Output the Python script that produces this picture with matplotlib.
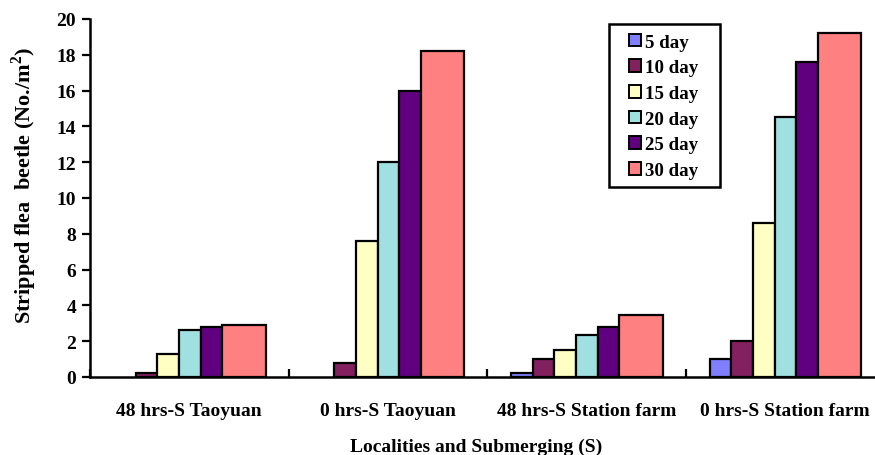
import matplotlib
matplotlib.use("Agg")
import matplotlib.pyplot as plt
from matplotlib.patches import Patch, Rectangle
import numpy as np

plt.rcParams['font.family'] = ['Liberation Serif', 'DejaVu Serif']
plt.rcParams['font.weight'] = 'bold'
plt.rcParams['mathtext.fontset'] = 'custom'
plt.rcParams['mathtext.bf'] = 'Liberation Serif:bold'
plt.rcParams['mathtext.rm'] = 'Liberation Serif:bold'

categories = ["48 hrs-S Taoyuan", "0 hrs-S Taoyuan", "48 hrs-S Station farm", "0 hrs-S Station farm"]
series = ["5 day", "10 day", "15 day", "20 day", "25 day", "30 day"]
day5 = [0.0, 0.0, 0.2, 1.0]
day10 = [0.2, 0.8, 1.0, 2.0]
day15 = [1.3, 7.6, 1.5, 8.6]
day20 = [2.6, 12.0, 2.35, 14.5]
day25 = [2.8, 16.0, 2.8, 17.6]
day30 = [2.9, 18.2, 3.45, 19.2]
values = [day5, day10, day15, day20, day25, day30]
colors = ["#8080FF", "#822060", "#FFFFC4", "#A0E0E0", "#600080", "#FF8080"]

W, H = 875, 456
fig = plt.figure(figsize=(8.75, 4.56), dpi=100)
ax = fig.add_axes([90/W, 1-378/H, 794/W, 358/H])

unit = 0.1093
start = 0.121
x0 = np.arange(len(categories))
for i, (vals, c) in enumerate(zip(values, colors)):
    w = unit * (2 if i == 5 else 1)
    left = x0 + start + i * unit
    v = np.array(vals)
    mask = v > 0
    ax.bar(left[mask], v[mask], width=w, align='edge', color=c,
           edgecolor='black', linewidth=1.6, zorder=3)

ax.set_xlim(0, 4)
ax.set_ylim(0, 20)
ax.set_yticks(np.arange(0, 21, 2))
ax.set_xticks(np.arange(0, 5))
ax.set_xticklabels([])
ax.set_xticks(x0 + 0.5, minor=True)
ax.set_xticklabels(categories, minor=True, fontsize=14, fontweight='bold')
ax.tick_params(axis='x', which='minor', length=0, pad=18)
ax.tick_params(axis='x', which='major', direction='in', length=6, width=1.6)
ax.tick_params(axis='y', direction='out', length=6, width=1.6, labelsize=14, pad=4)
for lab in ax.get_yticklabels():
    lab.set_fontweight('bold')

for s in ['top', 'right']:
    ax.spines[s].set_visible(False)
for s in ['left', 'bottom']:
    ax.spines[s].set_linewidth(1.8)

fig.text(24/W, 1-185/H, "Stripped flea  beetle (No./m$^{\\mathbf{2}}$)", rotation=90,
         ha='center', va='center', fontsize=16, fontweight='bold')
fig.text(476/W, 1-447/H, "Localities and Submerging (S)", ha='center', va='center',
         fontsize=14, fontweight='bold')

# legend frame
frame = Rectangle((609/W, 1-188/H), 111/W, 163/H, transform=fig.transFigure,
                  facecolor='white', edgecolor='black', linewidth=1.8, zorder=6, clip_on=False)
ax.add_patch(frame)
handles = [Patch(facecolor=c, edgecolor='black', linewidth=1.4) for c in colors]
leg = ax.legend(handles, series, loc='upper left', bbox_to_anchor=(629/W, 1-34.5/H),
                bbox_transform=fig.transFigure, frameon=False,
                fontsize=13.6, handlelength=0.65, handleheight=0.65,
                handletextpad=0.2, labelspacing=0.46, borderpad=0, borderaxespad=0)
leg.set_zorder(7)
for t in leg.get_texts():
    t.set_fontweight('bold')

fig.savefig("out.png", dpi=100)
